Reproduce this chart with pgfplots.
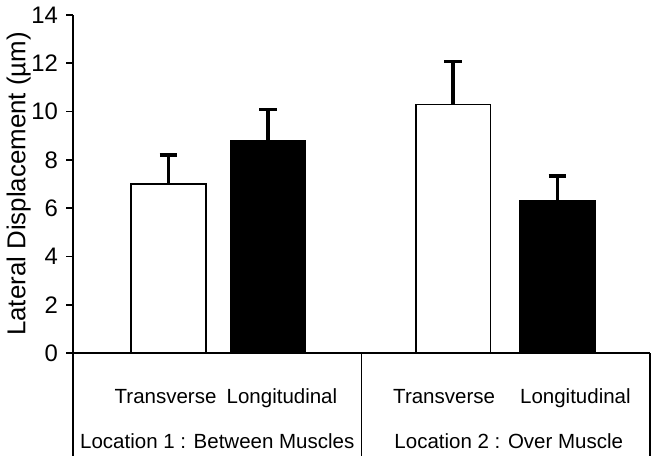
\documentclass[border=0pt]{standalone}
\usepackage{pgfplots}
\pgfplotsset{compat=1.18}
\usepackage{fontspec}
\setmainfont{Liberation Sans}
\begin{document}
\begin{tikzpicture}
\begin{axis}[
  scale only axis,
  width=290pt, height=170pt,
  xmin=0, xmax=580, ymin=0, ymax=14,
  axis x line=bottom, axis y line=left,
  axis line style={-, line width=0.9pt},
  xtick=\empty,
  ytick={0,2,...,14},
  tick align=outside,
  major tick length=3.5pt,
  ytick style={line width=0.9pt, black},
  /pgf/number format/assume math mode=true,
  yticklabel style={font=\fontsize{12}{14}\selectfont, xshift=-0.5pt},
  ylabel={Lateral Displacement (µm)},
  ylabel style={font=\fontsize{13}{15}\selectfont, yshift=-6.5pt},
  clip=false,
]
\addplot[ybar, bar width=37.5pt, bar shift=0pt, fill=white, draw=black, line width=0.75pt,
  error bars/.cd, y dir=plus, y explicit,
  error bar style={line width=1.6pt, black},
  error mark options={rotate=90, mark size=4.5pt, line width=1.6pt, black}]
  coordinates {(96,7.0) +- (0,1.2) (382,10.29) +- (0,1.77)};
\addplot[ybar, bar width=37.5pt, bar shift=0pt, fill=black, draw=black, line width=0.75pt,
  error bars/.cd, y dir=plus, y explicit,
  error bar style={line width=1.6pt, black},
  error mark options={rotate=90, mark size=4.5pt, line width=1.6pt, black}]
  coordinates {(196,8.77) +- (0,1.31) (487,6.30) +- (0,1.03)};
\draw[line width=0.9pt] (axis cs:0,0) -- (axis cs:0,-4.24);
\draw[line width=0.9pt] (axis cs:290,0) -- (axis cs:290,-4.24);
\draw[line width=0.9pt] (axis cs:580,0) -- (axis cs:580,-4.24);
\path (axis cs:590,-4.24);
\node[font=\fontsize{10.3}{12}\selectfont, anchor=base] at (axis cs:93,-2.10) {Transverse};
\node[font=\fontsize{10.3}{12}\selectfont, anchor=base] at (axis cs:210,-2.10) {Longitudinal};
\node[font=\fontsize{10.3}{12}\selectfont, anchor=base] at (axis cs:373,-2.10) {Transverse};
\node[font=\fontsize{10.3}{12}\selectfont, anchor=base] at (axis cs:505,-2.10) {Longitudinal};
\node[font=\fontsize{10.3}{12}\selectfont, anchor=base] at (axis cs:145,-3.95) {Location 1 : Between Muscles};
\node[font=\fontsize{10.3}{12}\selectfont, anchor=base] at (axis cs:438,-3.95) {Location 2 : Over Muscle};
\end{axis}
\end{tikzpicture}
\end{document}
